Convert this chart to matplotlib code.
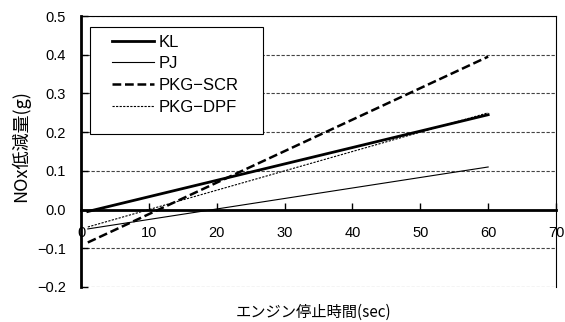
import matplotlib
matplotlib.use("Agg")
import matplotlib.pyplot as plt
from matplotlib.patches import Rectangle

# engine stop time (sec) -> NOx reduction (g)
x_sec = [1, 60]
kl = [-0.005, 0.245]
pj = [-0.05, 0.11]
pkg_scr = [-0.085, 0.395]
pkg_dpf = [-0.045, 0.25]
labels = ["KL", "PJ", "PKG−SCR", "PKG−DPF"]
xticks = [0, 10, 20, 30, 40, 50, 60, 70]
yticks = [-0.2, -0.1, 0.0, 0.1, 0.2, 0.3, 0.4, 0.5]

plt.rcParams['font.family'] = ['Liberation Sans', 'Noto Sans CJK JP', 'DejaVu Sans']

fig = plt.figure(figsize=(5.65, 3.22), dpi=100)
ax = fig.add_axes([0.1434, 0.1087, 0.8407, 0.8416])

# dashed grid lines, drawn under everything
for yv in yticks:
    ax.axhline(yv, color='#444444', lw=0.8, ls=(0, (3, 1.5)), zorder=0)

ax.plot(x_sec, kl, color='k', lw=2.0, label=labels[0])
ax.plot(x_sec, pj, color='k', lw=0.8, label=labels[1])
ax.plot(x_sec, pkg_scr, color='k', lw=1.8, ls=(0, (3.5, 1.5)), label=labels[2])
ax.plot(x_sec, pkg_dpf, color='k', lw=0.8, ls=(0, (2, 1.2)), label=labels[3])

ax.set_xlim(0, 70)
ax.set_ylim(-0.2, 0.5)
ax.set_xticks(xticks)
ax.set_yticks(yticks)
ax.set_yticklabels(["%.1f" % v if v >= 0 else "−%.1f" % -v for v in yticks])

ax.spines['bottom'].set_position(('data', 0))
ax.spines['bottom'].set_linewidth(2)
ax.spines['left'].set_linewidth(2)
ax.spines['top'].set_linewidth(0.8)
ax.spines['right'].set_linewidth(0.8)
ax.tick_params(axis='x', direction='in', length=5, width=1, pad=12, labelsize=10.5)
ax.tick_params(axis='y', direction='in', length=5, width=1, pad=11, labelsize=10.5)

ax.set_xlabel("エンジン停止時間(sec)", family=['Noto Sans CJK JP'], fontsize=11,
              va='center')
ax.xaxis.set_label_coords(0.49, -0.092)
ax.set_ylabel("NOx低減量(g)", family=['Noto Sans CJK JP'], fontsize=13, va='center')
ax.yaxis.set_label_coords(-0.128, 0.52)

leg = ax.legend(loc='upper left', bbox_to_anchor=(0.051, 0.956), frameon=False,
                handlelength=2.5, handletextpad=0.3, labelspacing=0.4,
                fontsize=12, borderaxespad=0)
box = Rectangle((0.019, 0.565), 0.364, 0.394, transform=ax.transAxes,
                fill=True, facecolor='white', edgecolor='k', lw=0.8, zorder=4)
ax.add_patch(box)
leg.set_zorder(5)

fig.savefig("out.png", dpi=100)
